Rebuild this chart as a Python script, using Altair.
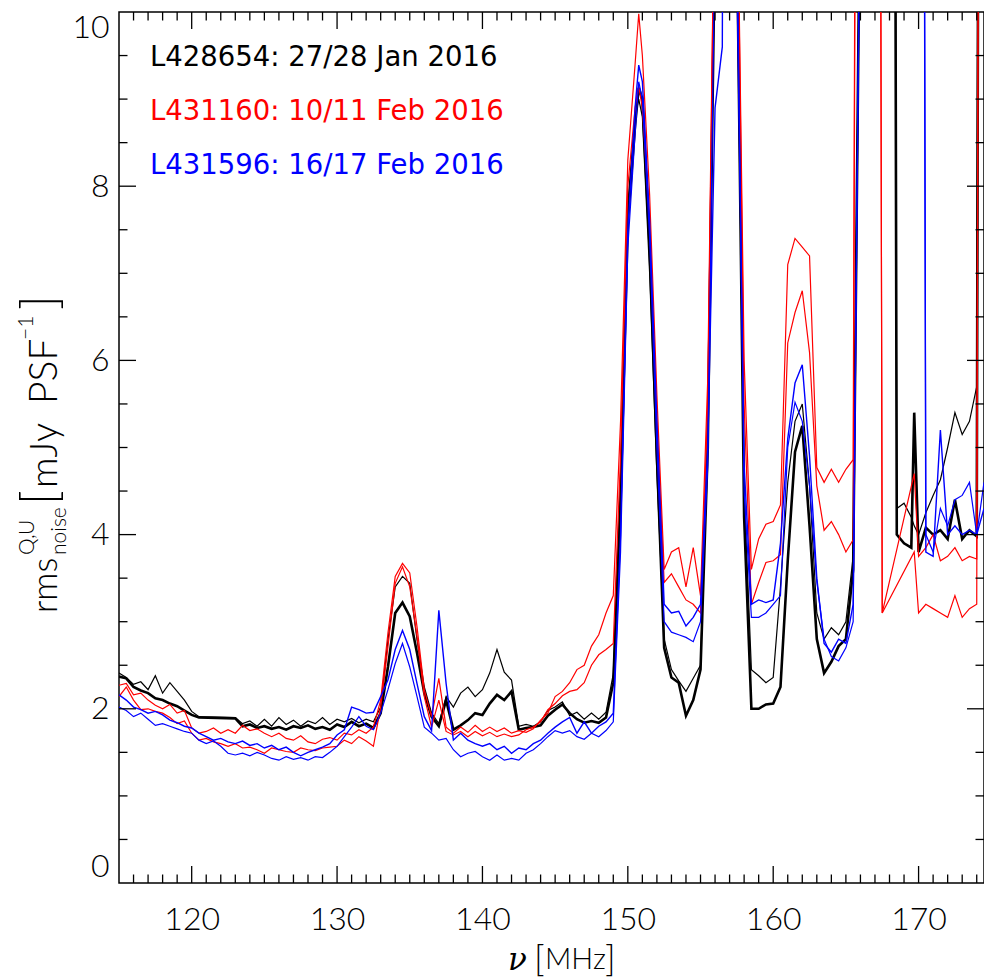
import altair as alt
import pandas as pd

# ---------------- data ----------------
FREQ = [
    115.0, 115.5, 116.0, 116.5, 117.0, 117.5, 118.0, 118.5, 119.0, 119.5, 120.0, 120.5, 121.0, 121.5, 122.0, 122.5,
    123.0, 123.5, 124.0, 124.5, 125.0, 125.5, 126.0, 126.5, 127.0, 127.5, 128.0, 128.5, 129.0, 129.5, 130.0,
    130.5, 131.0, 131.5, 132.0, 132.5, 133.0, 133.5, 134.0, 134.5, 135.0, 135.5, 136.0, 136.5, 137.0, 137.5,
    138.0, 138.5, 139.0, 139.5, 140.0, 140.5, 141.0, 141.5, 142.0, 142.5, 143.0, 143.5, 144.0, 144.5, 145.0,
    145.5, 146.0, 146.5, 147.0, 147.5, 148.0, 148.5, 149.0, 149.5, 150.0, 150.5, 150.75, 151.0, 151.5, 152.0, 152.5,
    153.0, 153.5, 154.0, 154.5, 155.0, 155.5, 156.0, 156.5, 157.0, 157.5, 158.0, 158.5,
    159.0, 159.5, 160.0, 160.5, 161.0, 161.5, 162.0, 162.5, 163.0, 163.5, 164.0, 164.5, 165.0, 165.5, 166.0,
    166.5, 167.0, 167.5, 168.0, 168.5, 169.0, 169.5, 169.7, 170.0, 170.5, 171.0, 171.5, 172.0, 172.5, 173.0, 173.5, 174.0, 174.5,
]

N = None
# L428654, thick black
K1 = [
    2.37, 2.35, 2.25, 2.21, 2.18, 2.12, 2.10, 2.06, 2.03, 1.98, 1.93, 1.90, N, N, N, N,
    1.89, 1.80, 1.82, 1.78, 1.80, 1.77, 1.79, 1.76, 1.80, 1.78, 1.81, 1.77, 1.79, 1.76, 1.82,
    1.79, 1.85, 1.80, 1.83, 1.78, 1.95, 2.48, 3.10, 3.22, 3.06, 2.64, 2.18, 1.91, 1.80, 2.10,
    1.76, 1.81, 1.87, 1.95, 1.93, 2.06, 2.16, 2.10, 2.20, 1.76, 1.78, 1.79, 1.81, 1.92, 1.99,
    2.05, 1.95, 1.88, 1.84, 1.86, 1.84, 1.90, 2.30, 4.40, 7.60, 8.70, 9.13, 9.00, 7.30, 4.90, 2.70,
    2.36, 2.30, 1.92, 2.10, 2.45, 5.00, 11.0, 40.0, 40.0, 11.0, 4.20, 2.00,
    2.00, 2.05, 2.06, 2.25, 3.70, 4.95, 5.25, 4.10, 2.80, 2.41, 2.54, 2.72, 2.80, 3.60, 12.0,
    40.0, 40.0, 40.0, 40.0, 4.00, 3.90, 3.85, 5.40, 3.80, 4.08, 4.00, 4.05, 3.95, 4.40, 3.95, 4.05, 3.98, 40.0,
]
# L428654, thin black
K2 = [
    2.41, 2.36, 2.28, 2.31, 2.22, 2.38, 2.18, 2.30, 2.20, 2.10, 1.97, 1.91, N, N, N, N,
    1.90, 1.83, 1.86, 1.80, 1.88, 1.80, 1.90, 1.82, 1.87, 1.80, 1.86, 1.83, 1.90, 1.82, 1.88,
    1.85, 1.89, 1.84, 1.88, 1.85, 2.02, 2.79, 3.40, 3.52, 3.44, 2.79, 2.25, 1.95, 1.83, 2.14,
    2.02, 2.18, 2.25, 2.14, 2.22, 2.41, 2.68, 2.42, 2.33, 1.80, 1.82, 1.80, 1.85, 1.98, 2.02,
    2.08, 1.92, 1.96, 1.88, 1.95, 1.88, 1.96, 2.40, 4.60, 7.80, 8.80, 9.00, 8.80, 7.00, 4.70, 2.80,
    2.45, 2.32, 2.20, 2.35, 2.50, 5.20, 11.0, 40.0, 40.0, 10.8, 4.50, 2.45,
    2.38, 2.30, 2.36, 3.40, 4.60, 5.30, 5.50, 4.56, 3.10, 2.80, 2.93, 2.85, 3.00, 3.75, 12.0,
    40.0, 40.0, 40.0, 40.0, 4.30, 4.36, 4.20, 4.10, 4.00, 4.25, 4.45, 4.63, 5.00, 5.40, 5.15, 5.30, 5.70, 40.0,
]
# L431160, red (upper)
R1 = [
    2.27, 2.29, 2.16, 2.18, 2.10, 2.04, 2.00, 2.05, 1.95, 1.98, 1.78, 1.72, 1.74, 1.78, 1.72, 1.76,
    1.72, 1.81, 1.75, 1.77, 1.72, 1.68, 1.72, 1.66, 1.64, 1.69, 1.62, 1.60, 1.65, 1.67, 1.64,
    1.72, 1.70, 1.76, 1.72, 1.79, 2.10, 2.87, 3.52, 3.67, 3.56, 2.94, 2.22, 1.91, 2.35, 1.79,
    1.72, 1.79, 1.73, 1.81, 1.74, 1.79, 1.74, 1.78, 1.72, 1.75, 1.73, 1.77, 1.87, 1.95, 2.14,
    2.20, 2.30, 2.45, 2.50, 2.72, 2.85, 3.10, 3.30, 5.30, 8.30, 9.40, 9.98, 9.50, 7.90, 5.60, 3.60,
    3.80, 3.85, 3.40, 3.85, 3.30, 5.80, 12.0, 40.0, 40.0, 12.0, 6.00, 3.60,
    3.95, 4.12, 4.15, 4.34, 7.10, 7.40, 7.30, 7.20, 4.77, 4.60, 4.75, 4.60, 4.75, 4.86, 30.0,
    40.0, 40.0, 3.10, N, N, N, N, 4.70, 3.75, 3.85, 4.00, 3.70, 3.75, 3.85, 3.70, 3.75, 3.72, 40.0,
]
# L431160, red (lower)
R2 = [
    2.14, 2.25, 2.10, 1.99, 2.00, 1.97, 1.95, 1.90, 1.83, 1.86, 1.72, 1.64, 1.66, 1.62, 1.60, 1.57,
    1.60, 1.55, 1.56, 1.53, 1.49, 1.55, 1.53, 1.51, 1.50, 1.55, 1.53, 1.52, 1.55, 1.56, 1.57,
    1.64, 1.60, 1.68, 1.63, 1.57, 2.02, 2.71, 3.44, 3.63, 3.40, 2.83, 2.14, 1.79, 2.10, 1.74,
    1.70, 1.74, 1.68, 1.74, 1.69, 1.73, 1.68, 1.71, 1.68, 1.70, 1.76, 1.79, 1.85, 1.99, 2.06,
    2.15, 2.20, 2.22, 2.30, 2.50, 2.62, 2.68, 2.75, 4.90, 8.00, 8.90, 9.15, 8.90, 7.60, 5.30, 3.45,
    3.55, 3.40, 3.25, 3.20, 3.10, 5.50, 12.0, 40.0, 40.0, 12.0, 5.50, 3.20,
    3.45, 3.68, 3.70, 3.77, 6.20, 6.55, 6.80, 6.09, 4.56, 4.05, 4.15, 4.00, 3.80, 3.94, 30.0,
    40.0, 40.0, 3.10, N, N, N, N, 3.80, 3.10, 3.20, 3.15, 3.10, 3.05, 3.30, 3.05, 3.15, 3.20, 40.0,
]
# L431596, blue (upper)
B1 = [
    2.16, 2.10, 2.02, 1.99, 1.95, 1.97, 1.93, 1.87, 1.84, 1.80, 1.78, 1.72, 1.68, 1.64, 1.66, 1.62,
    1.60, 1.63, 1.58, 1.60, 1.55, 1.58, 1.53, 1.56, 1.50, 1.46, 1.50, 1.53, 1.56, 1.60, 1.70,
    1.76, 2.02, 1.99, 1.95, 1.96, 2.14, 2.33, 2.68, 2.90, 2.68, 2.29, 1.91, 1.75, 3.13, 2.29,
    1.64, 1.72, 1.64, 1.60, 1.57, 1.60, 1.53, 1.57, 1.49, 1.55, 1.53, 1.60, 1.64, 1.72, 1.79,
    1.85, 1.90, 1.72, 1.85, 1.72, 1.80, 1.85, 1.95, 4.00, 7.50, 8.90, 9.39, 9.20, 7.60, 5.30, 3.20,
    3.10, 3.12, 2.95, 3.05, 3.20, 5.00, 8.90, 9.60, 40.0, 10.5, 4.80, 3.20,
    3.25, 3.22, 3.25, 3.90, 5.10, 5.74, 5.95, 4.90, 3.50, 2.75, 2.65, 2.80, 2.75, 3.20, 12.0,
    40.0, 40.0, 40.0, 40.0, 40.0, 40.0, 40.0, 40.0, 40.0, 3.80, 3.75, 5.20, 4.00, 4.10, 4.00, 4.05, 4.00, 4.30,
]
# L431596, blue (lower)
B2 = [
    2.02, 1.98, 1.91, 1.95, 1.88, 1.81, 1.83, 1.80, 1.77, 1.74, 1.72, 1.64, 1.60, 1.63, 1.57, 1.49,
    1.47, 1.49, 1.46, 1.50, 1.47, 1.43, 1.41, 1.45, 1.42, 1.44, 1.41, 1.45, 1.44, 1.50, 1.57,
    1.68, 1.79, 1.91, 1.80, 1.76, 1.95, 2.22, 2.52, 2.75, 2.48, 2.14, 1.79, 1.72, 1.64, 1.66,
    1.53, 1.45, 1.49, 1.51, 1.45, 1.41, 1.47, 1.41, 1.43, 1.41, 1.49, 1.53, 1.60, 1.68, 1.75,
    1.72, 1.75, 1.68, 1.65, 1.72, 1.68, 1.75, 1.85, 3.80, 7.30, 8.60, 9.20, 9.00, 7.40, 5.00, 3.00,
    2.88, 2.85, 2.82, 2.77, 3.00, 4.80, 11.0, 40.0, 40.0, 11.0, 4.50, 3.05,
    3.05, 3.10, 3.20, 3.30, 5.00, 5.52, 5.30, 4.56, 3.46, 2.80, 2.60, 2.55, 2.70, 3.00, 12.0,
    40.0, 40.0, 40.0, 40.0, 40.0, 40.0, 40.0, 40.0, 40.0, 4.00, 3.80, 4.30, 4.10, 4.40, 4.45, 4.60, 4.00, 4.60,
]

SERIES = [("K1", K1), ("K2", K2), ("R1", R1), ("R2", R2), ("B1", B1), ("B2", B2)]
COLORS = {"K1": "#000000", "K2": "#000000", "R1": "#ff0000", "R2": "#ff0000", "B1": "#0000ff", "B2": "#0000ff"}
WIDTHS = {"K1": 2.6, "K2": 1.2, "R1": 1.2, "R2": 1.2, "B1": 1.4, "B2": 1.2}

LEGEND_TEXT = ["L428654: 27/28 Jan 2016", "L431160: 10/11 Feb 2016", "L431596: 16/17 Feb 2016"]
LEGEND_COLORS = ["#000000", "#ff0000", "#0000ff"]

X_MAJOR = [120, 130, 140, 150, 160, 170]
X_MINOR = [v for v in range(116, 175) if v % 10 != 0]
Y_MAJOR = [0, 2, 4, 6, 8, 10]
Y_MINOR = [0.5, 1.0, 1.5, 2.5, 3.0, 3.5, 4.5, 5.0, 5.5, 6.5, 7.0, 7.5, 8.5, 9.0, 9.5]

for name, vals in SERIES:
    assert len(vals) == len(FREQ), (name, len(vals), len(FREQ))

rows = []
for name, vals in SERIES:
    for f, v in zip(FREQ, vals):
        if v is not None:
            rows.append({"freq": f, "rms": v, "series": name})
df = pd.DataFrame(rows)

W, H = 865, 871
OX, OY = 119, 12  # plot-area origin inside the page
xs = alt.Scale(domain=[115, 174.5], nice=False, zero=False)
ys = alt.Scale(domain=[0, 10], nice=False, zero=False)
LABEL_FONT = "Lato"
LABEL_WEIGHT = 300
TEXT_FONT = "DejaVu Sans"

base_axes = alt.Chart(pd.DataFrame({"freq": [115.0], "rms": [0.0]})).mark_point(opacity=0).encode(
    x=alt.X("freq:Q", scale=xs, axis=alt.Axis(values=X_MAJOR, format="d", title=None, grid=False, ticks=False,
                                             domain=False, labelFont=LABEL_FONT, labelFontSize=32,
                                             labelFontWeight=LABEL_WEIGHT, labelFlush=False,
                                             labelColor="#000", labelPadding=36, labelBaseline="middle")),
    y=alt.Y("rms:Q", scale=ys, axis=alt.Axis(values=Y_MAJOR, format="d", title=None, grid=False, ticks=False,
                                            domain=False, labelFont=LABEL_FONT, labelFontSize=32,
                                            labelFontWeight=LABEL_WEIGHT, labelFlush=True,
                                            labelColor="#000", labelPadding=10)),
)

layers = [base_axes]
for name, _ in SERIES:
    layers.append(
        alt.Chart(df).transform_filter(alt.datum.series == name).mark_line(
            clip=True, color=COLORS[name], strokeWidth=WIDTHS[name], strokeJoin="miter"
        ).encode(x=alt.X("freq:Q", scale=xs), y=alt.Y("rms:Q", scale=ys))
    )

xt_major = pd.DataFrame({"t": X_MAJOR})
xt_minor = pd.DataFrame({"t": X_MINOR})
yt_major = pd.DataFrame({"t": Y_MAJOR[1:-1]})
yt_minor = pd.DataFrame({"t": Y_MINOR})

def xticks(d, length):
    bottom = alt.Chart(d).mark_rule(color="#000", strokeWidth=1.3).encode(
        x=alt.X("t:Q", scale=xs), y=alt.value(H), y2=alt.value(H - length))
    top = alt.Chart(d).mark_rule(color="#000", strokeWidth=1.3).encode(
        x=alt.X("t:Q", scale=xs), y=alt.value(0), y2=alt.value(length))
    return [bottom, top]

def yticks(d, length):
    left = alt.Chart(d).mark_rule(color="#000", strokeWidth=1.3).encode(
        y=alt.Y("t:Q", scale=ys), x=alt.value(0), x2=alt.value(length))
    right = alt.Chart(d).mark_rule(color="#000", strokeWidth=1.3).encode(
        y=alt.Y("t:Q", scale=ys), x=alt.value(W), x2=alt.value(W - length))
    return [left, right]

layers += xticks(xt_major, 17) + xticks(xt_minor, 8.5) + yticks(yt_major, 17) + yticks(yt_minor, 8.5)

# legend text
for i, (txt_, col) in enumerate(zip(LEGEND_TEXT, LEGEND_COLORS)):
    layers.append(
        alt.Chart(pd.DataFrame({"label": [txt_]})).mark_text(
            align="left", baseline="middle", font=TEXT_FONT, fontSize=27.5, color=col
        ).encode(x=alt.value(150 - OX), y=alt.value(58 - OY + 54 * i), text="label:N")
    )

def txt(s, x, y, size, angle=0, style="normal", align="left", baseline="alphabetic",
        font=LABEL_FONT, weight=LABEL_WEIGHT):
    kw = dict(align=align, baseline=baseline, font=font, fontSize=size, color="#000",
              fontStyle=style, fontWeight=weight)
    if angle:
        kw["angle"] = angle
    return alt.Chart(pd.DataFrame({"s": [s]})).mark_text(**kw).encode(
        x=alt.value(x - OX), y=alt.value(y - OY), text="s:N")

# x title: nu [MHz]
layers += [
    txt("\u03bd", 508, 970, 31, style="italic", font="DejaVu Serif", weight=400),
    txt("[", 534, 971, 36),
    txt("MHz", 545, 969, 29),
    txt("]", 605, 971, 36),
]
# y title: rms^{Q,U}_{noise} [mJy PSF^-1]
layers += [
    txt("rms", 57, 613, 35, angle=270),
    txt("noise", 66, 555, 21, angle=270),
    txt("Q,U", 34, 555, 21, angle=270),
    txt("[", 56, 505, 50, angle=270),
    txt("mJy", 57, 488, 38, angle=270),
    txt("PSF", 57, 404, 39, angle=270),
    txt("\u22121", 33, 340, 21, angle=270),
    txt("]", 56, 310, 50, angle=270),
]

chart = alt.layer(*layers).properties(
    width=W, height=H,
    autosize=alt.AutoSizeParams(type="none"),
    padding={"left": OX, "top": OY, "right": 0, "bottom": 980 - OY - H},
    background="white",
).configure_view(stroke="#000", strokeWidth=1.5)

chart.save("out.html", embed_options={"renderer": "svg", "actions": False})
